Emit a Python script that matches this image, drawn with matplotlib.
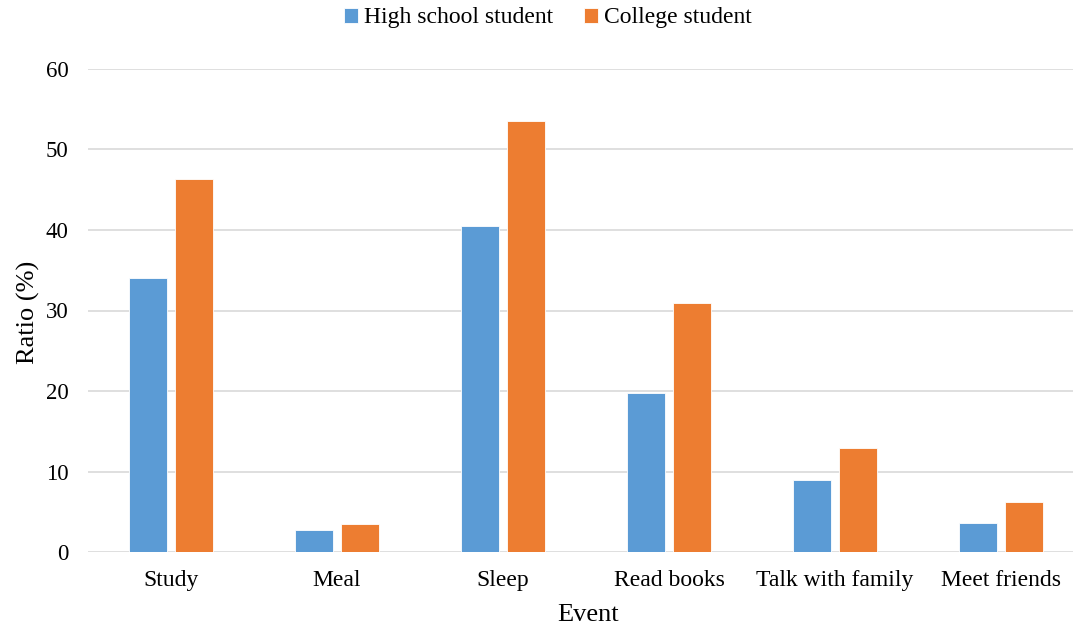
import matplotlib
matplotlib.use('Agg')
import matplotlib.pyplot as plt
import numpy as np

events = ['Study', 'Meal', 'Sleep', 'Read books', 'Talk with family', 'Meet friends']
high_school = [34.0, 2.7, 40.5, 19.8, 8.9, 3.6]
college = [46.3, 3.5, 53.5, 30.9, 12.9, 6.2]
series_names = ['High school student', 'College student']
colors = ['#5b9bd5', '#ed7d31']

plt.rcParams['font.family'] = ['Liberation Serif', 'DejaVu Serif']

fig = plt.figure(figsize=(10.73, 6.32), dpi=100)
# axes runs a little past the right edge, like the cropped original
ax = fig.add_axes([88 / 1073, 80 / 632, 996 / 1073, 483 / 632])

x = np.arange(len(events))
w = 0.229
gap = 0.054
ax.bar(x - (w + gap) / 2, high_school, w, color=colors[0], label=series_names[0],
       edgecolor='white', linewidth=0.6, zorder=3)
ax.bar(x + (w + gap) / 2, college, w, color=colors[1], label=series_names[1],
       edgecolor='white', linewidth=0.6, zorder=3)

ax.set_xlim(-0.5, len(events) - 0.5)
ax.set_ylim(0, 60)
ax.set_yticks(range(0, 61, 10))
ax.set_xticks(x)
ax.set_xticklabels(events, fontsize=17)
ax.tick_params(axis='y', labelsize=16.5, length=0, pad=14)
ax.tick_params(axis='x', length=0, pad=13)
ax.grid(axis='y', color='#d9d9d9', linewidth=1.2, zorder=0)
for s in ax.spines.values():
    s.set_visible(False)

ax.set_ylabel('Ratio (%)', fontsize=19)
ax.yaxis.set_label_coords(-0.060, 0.497)
ax.yaxis.label.set_va('center')
ax.set_xlabel('Event', fontsize=19)
ax.xaxis.set_label_coords(0.502, -0.130)
ax.xaxis.label.set_va('center')

fig.legend(loc='center', bbox_to_anchor=(548 / 1073, 1 - 18 / 632), ncol=2,
           frameon=False, fontsize=17, handlelength=0.6, handleheight=0.6,
           handletextpad=0.25, columnspacing=1.3)

fig.savefig('out.png', dpi=100)
